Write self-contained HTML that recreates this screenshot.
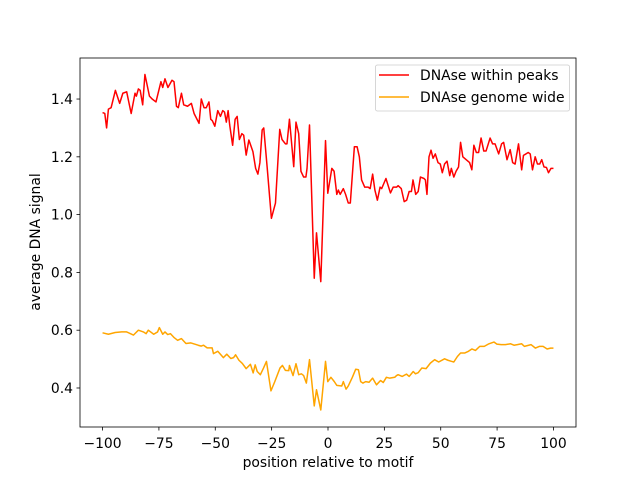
<!DOCTYPE html>
<html><head><meta charset="utf-8"><style>
body{margin:0;background:#fff}
svg{display:block;font-family:"DejaVu Sans","Liberation Sans",sans-serif}
</style></head><body>
<svg id="chart" width="640" height="480" viewBox="0 0 640 480">
<rect width="640" height="480" fill="#fff"/>
<g id="plot"></g>
<rect x="80" y="58" width="496" height="369" fill="none" stroke="#000" stroke-width="0.8"/>
<g id="ticks"></g>
<text x="328" y="467" text-anchor="middle" font-size="13.9">position relative to motif</text>
<text transform="translate(40,242) rotate(-90)" text-anchor="middle" font-size="13.9">average DNA signal</text>
<g>
<rect x="375.5" y="65" width="194" height="46" rx="2" fill="#fff" fill-opacity="0.8" stroke="#ccc" stroke-width="0.8"/>
<line x1="379" y1="75" x2="409" y2="75" stroke="red" stroke-width="1.5"/>
<text x="420" y="80" font-size="13.9">DNAse within peaks</text>
<line x1="379" y1="97" x2="409" y2="97" stroke="orange" stroke-width="1.5"/>
<text x="420" y="102" font-size="13.9">DNAse genome wide</text>
</g>
</svg>
<script>
const xTicks=[-100,-75,-50,-25,0,25,50,75,100];
const yTicks=[0.4,0.6,0.8,1.0,1.2,1.4];
const peaksX=[-100,-99,-98.2,-97.4,-96.2,-94.3,-92.4,-91,-89.3,-87.3,-85.6,-85,-84.1,-83.3,-82.2,-81.2,-79.2,-78,-76.3,-74.1,-73.3,-72.3,-71,-69.2,-68.3,-67.2,-66.4,-65,-64,-62.3,-60.6,-59.4,-57.2,-56.2,-55,-54,-52.8,-52,-51.3,-50.2,-48.9,-47.7,-46.7,-45.9,-45.1,-44.3,-43.6,-42.3,-41.2,-40.3,-39.3,-38.2,-37.4,-36.3,-35.1,-33.3,-32.1,-31.1,-30.2,-29.2,-28.5,-27,-25.1,-23.3,-21.4,-20.4,-18.9,-18.2,-17.1,-15.2,-14.2,-13,-12,-10.8,-9.8,-9.3,-8.2,-6.1,-5.1,-3.2,-1.1,-0.1,1.7,2.7,3.9,4.6,5.4,6.8,7.8,9,9.9,11.7,12.9,13.9,14.9,16.3,17.8,18.7,19.8,20.8,21.9,23.1,23.8,25.7,27.7,28.9,30.4,31.1,32.5,33.8,34.9,36,37,37.7,38.9,40,41,42.6,43.2,43.9,44.8,45.7,46.6,47.6,48.8,49.8,50.7,51.7,52.8,54,54.7,55.8,56.8,57.9,58.8,59.8,61.3,62.8,63.8,64.7,65.8,66.8,67.9,69.1,70.1,71.9,73,74.1,75.7,77,77.9,79.4,80.8,81.9,83,84.5,85.9,86.7,87.8,88.8,89.7,90.7,91.9,92.9,93.9,94.8,95.8,96.9,97.8,98.9,100];
const peaksY=[1.353,1.35,1.30,1.365,1.37,1.43,1.385,1.42,1.425,1.35,1.42,1.41,1.435,1.43,1.38,1.485,1.41,1.40,1.39,1.46,1.44,1.47,1.44,1.465,1.46,1.375,1.37,1.42,1.38,1.375,1.385,1.35,1.316,1.40,1.37,1.37,1.39,1.33,1.325,1.306,1.36,1.34,1.36,1.355,1.32,1.36,1.31,1.24,1.33,1.34,1.26,1.28,1.275,1.206,1.258,1.218,1.16,1.14,1.18,1.293,1.30,1.165,0.987,1.04,1.295,1.26,1.245,1.245,1.33,1.166,1.32,1.28,1.15,1.13,1.13,1.16,1.31,0.78,0.937,0.768,1.256,1.074,1.16,1.15,1.07,1.085,1.07,1.09,1.07,1.04,1.04,1.235,1.235,1.2,1.12,1.095,1.095,1.09,1.14,1.085,1.05,1.095,1.09,1.125,1.075,1.095,1.095,1.10,1.09,1.045,1.05,1.08,1.08,1.12,1.07,1.08,1.13,1.125,1.12,1.07,1.2,1.223,1.195,1.21,1.18,1.175,1.145,1.175,1.185,1.135,1.16,1.13,1.15,1.165,1.25,1.2,1.19,1.18,1.155,1.24,1.215,1.215,1.265,1.22,1.22,1.265,1.245,1.245,1.21,1.245,1.25,1.19,1.225,1.18,1.175,1.245,1.155,1.205,1.21,1.215,1.21,1.155,1.2,1.175,1.175,1.19,1.165,1.163,1.145,1.16,1.16];
const genomeX=[-100,-97.4,-94.4,-91.5,-89.3,-86.3,-84.1,-81.9,-80.7,-79.7,-77.3,-75.6,-74.8,-73.3,-72.3,-71.1,-69.9,-68.2,-66.7,-65,-63,-60.8,-57.6,-56.2,-55.2,-53.6,-51.4,-50.8,-48.9,-46.4,-44.9,-43.1,-41.9,-41,-39.5,-38,-36.3,-34.4,-33.2,-32.3,-31.4,-30,-28.6,-27.3,-25.3,-23.6,-21.3,-20.2,-18.9,-17.4,-17.1,-15.5,-14.2,-13,-11.8,-10.8,-9.6,-8.2,-6.1,-5.1,-3.2,-1.1,-0.1,1.3,2.8,3.9,6.1,6.8,8,9,10.8,12.3,13.5,14.5,15.5,16.7,18.2,19.8,21.5,23.3,24.5,25.9,27.4,29.6,30.4,31.1,32.9,34.8,36,37.8,38.8,40,41.6,43.5,45.4,47.3,49.1,51.7,53.2,54.9,55.8,57.4,58.8,60.6,62.3,63.8,65.4,67.3,69.3,71.4,73.6,74.9,76.8,78.7,81,82.5,84,85.9,87.1,90.1,92,93.7,95.4,97.2,98.7,100];
const genomeY=[0.591,0.586,0.592,0.594,0.594,0.583,0.600,0.594,0.588,0.600,0.586,0.594,0.609,0.586,0.594,0.585,0.588,0.574,0.565,0.571,0.554,0.556,0.548,0.545,0.548,0.539,0.539,0.519,0.527,0.505,0.517,0.502,0.505,0.515,0.496,0.485,0.467,0.482,0.452,0.480,0.457,0.446,0.469,0.492,0.390,0.422,0.469,0.478,0.461,0.46,0.478,0.443,0.484,0.446,0.449,0.443,0.417,0.498,0.338,0.394,0.324,0.492,0.422,0.437,0.422,0.409,0.407,0.422,0.396,0.407,0.437,0.465,0.463,0.422,0.417,0.422,0.42,0.434,0.411,0.426,0.419,0.437,0.434,0.437,0.443,0.446,0.44,0.448,0.44,0.457,0.449,0.453,0.469,0.467,0.486,0.498,0.49,0.501,0.496,0.492,0.49,0.509,0.521,0.521,0.527,0.535,0.53,0.544,0.544,0.553,0.559,0.552,0.55,0.55,0.553,0.548,0.55,0.553,0.544,0.55,0.538,0.544,0.544,0.535,0.538,0.538];

const L=80,T=58,W=496,H=369;
const xMin=-110,xMax=110,yMin=0.265,yMax=1.542;
function sx(v){return L+(v-xMin)/(xMax-xMin)*W;}
function sy(v){return T+(yMax-v)/(yMax-yMin)*H;}
const NS="http://www.w3.org/2000/svg";
const plot=document.getElementById('plot');
const ticks=document.getElementById('ticks');
function mk(tag,attrs,parent){const e=document.createElementNS(NS,tag);for(const k in attrs)e.setAttribute(k,attrs[k]);parent.appendChild(e);return e;}
function line(xs,ys,color,name){
  let d='';
  for(let i=0;i<xs.length;i++){d+=(i?'L':'M')+sx(xs[i]).toFixed(2)+','+sy(ys[i]).toFixed(2);}
  const p=mk('path',{d:d,fill:'none',stroke:color,'stroke-width':1.5,'stroke-linejoin':'round'},plot);
  
  
}
line(peaksX,peaksY,'red','series-dnase-within-peaks');
line(genomeX,genomeY,'orange','series-dnase-genome-wide');
xTicks.forEach(v=>{
  const x=sx(v);
  const t=mk('line',{x1:x,y1:T+H,x2:x,y2:T+H+3.5,stroke:'#000','stroke-width':0.8},ticks);
  
  
  const lb=mk('text',{x:x,y:448,'text-anchor':'middle','font-size':13.9},ticks);
  lb.textContent=(v<0?'\u2212'+(-v):String(v));
  
  
});
yTicks.forEach(v=>{
  const y=sy(v);
  const t=mk('line',{x1:L-3.5,y1:y,x2:L,y2:y,stroke:'#000','stroke-width':0.8},ticks);
  
  
  const lb=mk('text',{x:L-7,y:y+5,'text-anchor':'end','font-size':13.9},ticks);
  lb.textContent=v.toFixed(1);
  
  
});
</script>
</body></html>
